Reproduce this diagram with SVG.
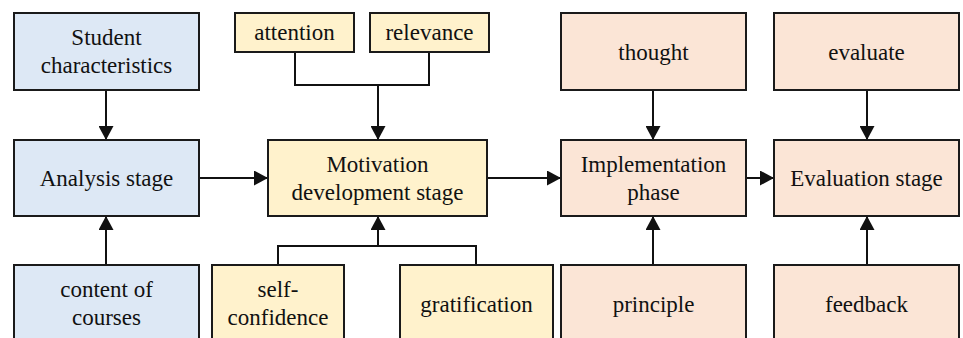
<svg xmlns="http://www.w3.org/2000/svg" width="963" height="338" viewBox="0 0 963 338">
  <style>
    .box { stroke: #1a1a1a; stroke-width: 2; }
    .blue { fill: #dde8f5; }
    .yellow { fill: #fff2cc; }
    .peach { fill: #fbe5d6; }
    .label { font-family: 'Liberation Serif', 'Times New Roman', Times, 'Noto Serif', 'DejaVu Serif', Tinos, Georgia, serif; font-size: 23px; fill: #111; text-anchor: middle; }
    .wire { fill: none; stroke: #111; stroke-width: 2; }
  </style>
  <defs>
    <marker id="arrow" markerUnits="userSpaceOnUse" markerWidth="15" markerHeight="15" refX="14" refY="7.5" orient="auto">
      <path d="M0,0 L14,7.5 L0,15 z" fill="#111"/>
    </marker>
  </defs>
  <rect width="963" height="338" fill="#ffffff"/>

  <!-- connectors -->
  <g id="connectors">
    <line class="wire" x1="106" y1="90" x2="106" y2="140" marker-end="url(#arrow)"/>
    <line class="wire" x1="106" y1="265" x2="106" y2="216" marker-end="url(#arrow)"/>
    <line class="wire" x1="199" y1="178" x2="268" y2="178" marker-end="url(#arrow)"/>
    <polyline class="wire" points="295,52 295,85 429,85 429,52"/>
    <line class="wire" x1="378" y1="85" x2="378" y2="140" marker-end="url(#arrow)"/>
    <polyline class="wire" points="278,265 278,246 476,246 476,265"/>
    <line class="wire" x1="378" y1="246" x2="378" y2="216" marker-end="url(#arrow)"/>
    <line class="wire" x1="487" y1="178" x2="561" y2="178" marker-end="url(#arrow)"/>
    <line class="wire" x1="653" y1="90" x2="653" y2="140" marker-end="url(#arrow)"/>
    <line class="wire" x1="653" y1="265" x2="653" y2="216" marker-end="url(#arrow)"/>
    <line class="wire" x1="746" y1="178" x2="774" y2="178" marker-end="url(#arrow)"/>
    <line class="wire" x1="867" y1="90" x2="867" y2="140" marker-end="url(#arrow)"/>
    <line class="wire" x1="867" y1="265" x2="867" y2="216" marker-end="url(#arrow)"/>
  </g>

  <!-- analysis column -->
  <g id="student-characteristics">
    <rect class="box blue" x="14" y="13" width="185" height="77"/>
    <text class="label" x="106.5" y="45">Student</text>
    <text class="label" x="106.5" y="72.5">characteristics</text>
  </g>
  <g id="analysis-stage">
    <rect class="box blue" x="14" y="140" width="185" height="76"/>
    <text class="label" x="106.5" y="185.5">Analysis stage</text>
  </g>
  <g id="content-of-courses">
    <rect class="box blue" x="14" y="265" width="185" height="78"/>
    <text class="label" x="106.5" y="297">content of</text>
    <text class="label" x="106.5" y="325">courses</text>
  </g>

  <!-- motivation column -->
  <g id="attention">
    <rect class="box yellow" x="235" y="13" width="119" height="39"/>
    <text class="label" x="294.5" y="39.5">attention</text>
  </g>
  <g id="relevance">
    <rect class="box yellow" x="370" y="13" width="119" height="39"/>
    <text class="label" x="429.5" y="39.5">relevance</text>
  </g>
  <g id="motivation-development-stage">
    <rect class="box yellow" x="268" y="140" width="219" height="76"/>
    <text class="label" x="377.5" y="172">Motivation</text>
    <text class="label" x="377.5" y="199.5">development stage</text>
  </g>
  <g id="self-confidence">
    <rect class="box yellow" x="212" y="265" width="132" height="78"/>
    <text class="label" x="278" y="297">self-</text>
    <text class="label" x="278" y="325">confidence</text>
  </g>
  <g id="gratification">
    <rect class="box yellow" x="400" y="265" width="153" height="78"/>
    <text class="label" x="476.5" y="312">gratification</text>
  </g>

  <!-- implementation column -->
  <g id="thought">
    <rect class="box peach" x="561" y="13" width="185" height="77"/>
    <text class="label" x="653.5" y="59.5">thought</text>
  </g>
  <g id="implementation-phase">
    <rect class="box peach" x="561" y="140" width="185" height="76"/>
    <text class="label" x="653.5" y="172">Implementation</text>
    <text class="label" x="653.5" y="199.5">phase</text>
  </g>
  <g id="principle">
    <rect class="box peach" x="561" y="265" width="185" height="78"/>
    <text class="label" x="653.5" y="312">principle</text>
  </g>

  <!-- evaluation column -->
  <g id="evaluate">
    <rect class="box peach" x="774" y="13" width="185" height="77"/>
    <text class="label" x="866.5" y="59.5">evaluate</text>
  </g>
  <g id="evaluation-stage">
    <rect class="box peach" x="774" y="140" width="185" height="76"/>
    <text class="label" x="866.5" y="185.5">Evaluation stage</text>
  </g>
  <g id="feedback">
    <rect class="box peach" x="774" y="265" width="185" height="78"/>
    <text class="label" x="866.5" y="312">feedback</text>
  </g>
</svg>
